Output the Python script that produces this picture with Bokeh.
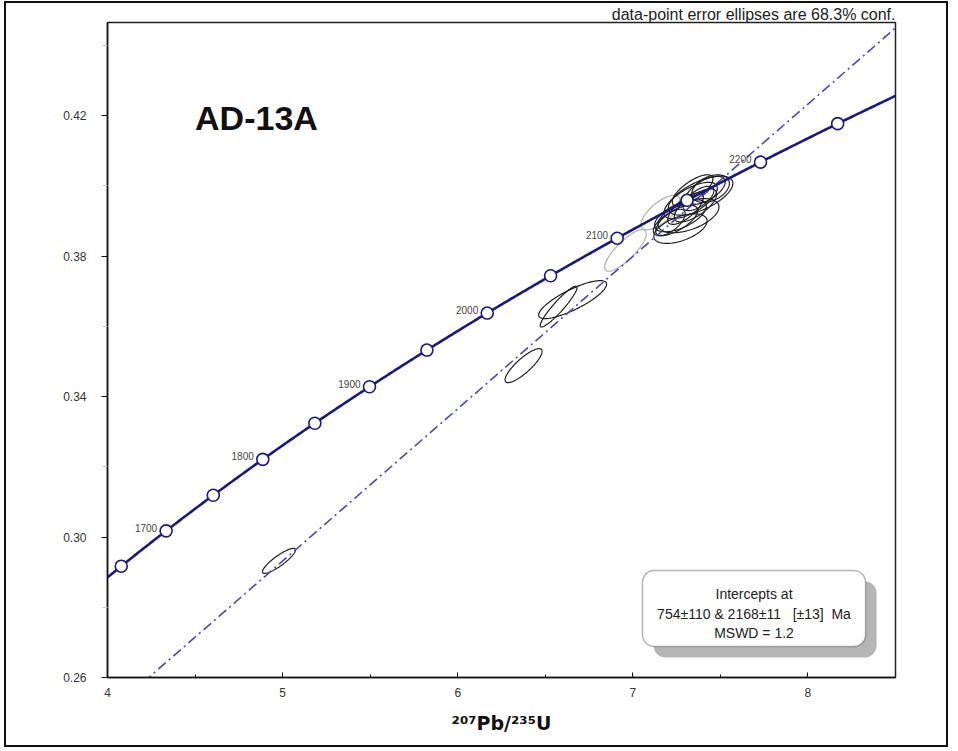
import numpy as np
from bokeh.plotting import figure
from bokeh.models import FixedTicker, PrintfTickFormatter, BoxAnnotation, Label, Range1d, ColumnDataSource, Title
from bokeh.core.properties import value
from bokeh.embed import file_html
from bokeh.resources import INLINE

# U decay constants (per Ma)
LAMBDA_238 = 1.55125e-4
LAMBDA_235 = 9.8485e-4

marker_ages = [1650, 1700, 1750, 1800, 1850, 1900, 1950, 2000, 2050, 2100, 2150, 2200, 2250]
label_ages = [1700, 1800, 1900, 2000, 2100, 2200]
lower_intercept_age = 754
upper_intercept_age = 2168

# analyses: 207Pb/235U, 206Pb/238U, half-extent x, half-extent y, error correlation
blk_x = [4.979, 6.376, 6.656, 6.576, 7.330, 7.387, 7.272, 7.358, 7.301, 7.415, 7.244, 7.444, 7.318, 7.375, 7.215, 7.341, 7.272]
blk_y = [0.2932, 0.3488, 0.3676, 0.3656, 0.3958, 0.3972, 0.3915, 0.3944, 0.3935, 0.3987, 0.3901, 0.3992, 0.3915, 0.3964, 0.3896, 0.3987, 0.3878]
blk_sx = [0.0942, 0.1057, 0.194, 0.105, 0.1523, 0.1843, 0.1478, 0.1215, 0.1018, 0.1125, 0.1269, 0.1075, 0.1739, 0.0882, 0.0841, 0.1161, 0.1521]
blk_sy = [0.00356, 0.00484, 0.00541, 0.00581, 0.00520, 0.00555, 0.00458, 0.00470, 0.00448, 0.00399, 0.00433, 0.00392, 0.00487, 0.00348, 0.00373, 0.00445, 0.00421]
blk_rho = [0.87, 0.84, 0.81, 0.93, 0.67, 0.63, 0.59, 0.70, 0.71, 0.60, 0.67, 0.38, 0.51, 0.65, 0.66, 0.73, 0.52]

gry_x = [6.958, 7.158]
gry_y = [0.3816, 0.3924]
gry_sx = [0.119, 0.1112]
gry_sy = [0.00592, 0.00490]
gry_rho = [0.81, 0.70]

x_ticks = [4, 5, 6, 7, 8]
x_minor = [4.5, 5.5, 6.5, 7.5]
y_ticks = [0.26, 0.30, 0.34, 0.38, 0.42]
y_minor = [0.28, 0.32, 0.36, 0.40, 0.44]

box_lines = ["Intercepts at", "754±110 & 2168±11\u00a0\u00a0\u00a0[±13]\u00a0\u00a0Ma", "MSWD = 1.2"]


def conc(t):
    t = np.asarray(t, dtype=float)
    return np.exp(LAMBDA_235 * t) - 1.0, np.exp(LAMBDA_238 * t) - 1.0


def ellipses(xc, yc, sx, sy, rho):
    th = np.linspace(0, 2 * np.pi, 120)
    xs, ys = [], []
    for a, b, c, d, r in zip(xc, yc, sx, sy, rho):
        xs.append(list(a + c * np.cos(th)))
        ys.append(list(b + d * (r * np.cos(th) + np.sqrt(1 - r * r) * np.sin(th))))
    return xs, ys


p = figure(width=944, height=746, x_range=Range1d(4, 8.5), y_range=Range1d(0.26, 0.4465),
           output_backend="svg", toolbar_location=None,
           min_border_left=101, min_border_right=55, min_border_top=0, min_border_bottom=72,
           background_fill_color="white", border_fill_color="white",
           styles={"border": "2px solid #111", "margin-left": "4px", "margin-top": "1px"})
p.grid.visible = False
p.outline_line_color = "#222222"
p.outline_line_width = 1.5

note = Title(text="data-point error ellipses are 68.3% conf.", align="right",
             text_font="Liberation Sans", text_font_size="16px",
             text_font_style="normal", text_color="#222222", standoff=0, offset=0)
p.add_layout(note, "above")

# axes
p.xaxis.ticker = FixedTicker(ticks=x_ticks, minor_ticks=x_minor)
p.yaxis.ticker = FixedTicker(ticks=y_ticks, minor_ticks=y_minor)
p.yaxis.formatter = PrintfTickFormatter(format="%.2f")
for ax in (p.xaxis[0], p.yaxis[0]):
    ax.axis_line_color = "#111111"
    ax.axis_line_width = 1.5
    ax.major_tick_line_color = "#111111"
    ax.major_label_text_font = "Liberation Sans"
    ax.major_label_text_font_size = "12px"
    ax.major_label_text_color = "#333333"
p.xaxis.major_tick_in = 5
p.xaxis.major_tick_out = 0
p.xaxis.minor_tick_in = 3
p.xaxis.minor_tick_out = 0
p.xaxis.minor_tick_line_color = "#111111"
p.xaxis.major_label_standoff = 10
p.yaxis.major_tick_in = 0
p.yaxis.major_tick_out = 6
p.yaxis.minor_tick_in = 0
p.yaxis.minor_tick_out = 5
p.yaxis.minor_tick_line_color = "#c8c8c8"
p.yaxis.major_label_standoff = 15

p.xaxis.axis_label = "²⁰⁷Pb/²³⁵U"
p.xaxis.axis_label_text_font = "DejaVu Sans"
p.xaxis.axis_label_text_font_style = "bold"
p.xaxis.axis_label_text_font_size = "19px"
p.xaxis.axis_label_text_color = "#111111"
p.xaxis.axis_label_standoff = 12

# error ellipses
bx, by = ellipses(blk_x, blk_y, blk_sx, blk_sy, blk_rho)
gx, gy = ellipses(gry_x, gry_y, gry_sx, gry_sy, gry_rho)
p.multi_line(gx, gy, line_color="#b4b4b4", line_width=1.3)
p.multi_line(bx, by, line_color="#1e1e1e", line_width=1.2)

# discordia through the two intercepts
xl, yl = conc([lower_intercept_age])
xu, yu = conc([upper_intercept_age])
slope = (yu[0] - yl[0]) / (xu[0] - xl[0])
dx = np.array([xl[0], 9.0])
p.line(dx, yl[0] + slope * (dx - xl[0]), line_color="#4a4aa6", line_width=1.6, line_dash="10 4 2 4")

# concordia curve
t_curve = np.linspace(1600, 2320, 400)
cx, cy = conc(t_curve)
p.line(cx, cy, line_color="#191980", line_width=2.6)
mx, my = conc(marker_ages)
p.scatter(mx, my, size=12, fill_color="white", line_color="#191980", line_width=1.6)
lx, ly = conc(label_ages)
src = ColumnDataSource(dict(x=lx, y=ly, t=[str(a) for a in label_ages]))
p.text("x", "y", text="t", source=src, text_align="right", text_baseline="middle",
       x_offset=-9, y_offset=-3, text_font=value("Liberation Sans"), text_font_size="10px",
       text_color="#444444")

# intercepts box
p.add_layout(BoxAnnotation(left=7.118, right=8.392, bottom=0.2657, top=0.2874,
                           fill_color="#b5b5b5", fill_alpha=1.0, line_alpha=0, border_radius=12))
p.add_layout(BoxAnnotation(left=7.055, right=8.329, bottom=0.2688, top=0.2905,
                           fill_color="white", fill_alpha=1.0, line_color="#111111",
                           line_width=1.5, border_radius=12))
for txt, yy in zip(box_lines, [0.2839, 0.2782, 0.2728]):
    p.add_layout(Label(x=7.692, y=yy, text=txt, text_align="center", text_baseline="middle",
                       text_font="Liberation Sans", text_font_size="14px", text_color="#222222"))

# title and axis label
p.add_layout(Label(x=4.5, y=0.4192, text="AD-13A", text_align="left", text_baseline="middle",
                   text_font="Liberation Sans", text_font_size="34px", text_font_style="bold",
                   text_color="#111111"))
p.add_layout(Label(x=4, y=0.3417, x_offset=-57, text="²⁰⁶Pb/²³⁸U", angle=np.pi / 2,
                   text_align="center", text_baseline="middle",
                   text_font="DejaVu Sans", text_font_size="19px", text_font_style="bold",
                   text_color="#111111"))

open("out.html", "w").write(file_html(p, INLINE))
